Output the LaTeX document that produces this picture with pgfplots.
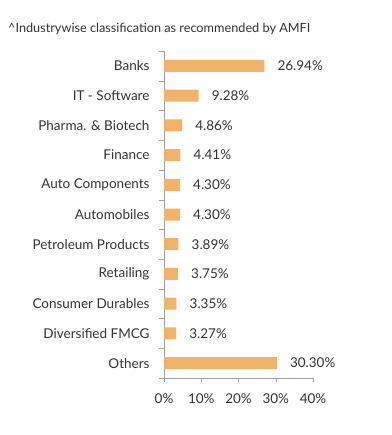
\documentclass[border=0pt]{standalone}
\usepackage{pgfplots}
\pgfplotsset{compat=1.18}
\usepackage{fontspec}
\setmainfont{Lato}
\definecolor{barc}{HTML}{F0B36C}
\definecolor{txt}{HTML}{333333}
\definecolor{axc}{HTML}{A0A0A0}
\begin{document}
\begin{tikzpicture}
\useasboundingbox (0pt,0pt) rectangle (391pt,-435pt);
\node[anchor=west, inner sep=0pt, text=txt, font=\fontsize{12.7}{14}\selectfont] at (8pt,-29pt) {\textasciicircum Industrywise classification as recommended by AMFI};
\begin{axis}[
  at={(164pt,-378pt)}, anchor=south west,
  scale only axis, width=149pt, height=327pt,
  xbar, bar width=12pt,
  xmin=0, xmax=40, ymin=-0.5, ymax=10.5, y dir=reverse,
  ytick={0,...,10},
  yticklabels={Banks, IT - Software, Pharma. \& Biotech, Finance, Auto Components, Automobiles, Petroleum Products, Retailing, Consumer Durables, Diversified FMCG, Others},
  minor ytick={-0.5,0.5,...,10.5},
  major y tick style={draw=none},
  xtick={0,10,20,30,40},
  xticklabel={\pgfmathprintnumber[assume math mode=true]{\tick}\%},
  axis x line*=bottom, axis y line*=left,
  axis line style={-, draw=axc},
  tick style={draw=axc},
  tick align=outside,
  major tick length=4pt, minor tick length=5pt,
  tick label style={text=txt, font=\fontsize{13.5}{15}\selectfont},
  yticklabel style={xshift=-7pt},
  xticklabel style={yshift=-8pt},
  point meta=x,
  nodes near coords={\pgfmathprintnumber[fixed,fixed zerofill,precision=2,assume math mode=true]{\pgfplotspointmeta}\%},
  nodes near coords align={horizontal},
  every node near coord/.append style={text=txt, font=\fontsize{13.5}{15}\selectfont, inner sep=0pt, xshift=13pt},
  clip=false,
]
\addplot[fill=barc, draw=none] coordinates {
(26.94,0) (9.28,1) (4.86,2) (4.41,3) (4.30,4) (4.30,5) (3.89,6) (3.75,7) (3.35,8) (3.27,9) (30.30,10)
};
\end{axis}
\end{tikzpicture}
\end{document}
